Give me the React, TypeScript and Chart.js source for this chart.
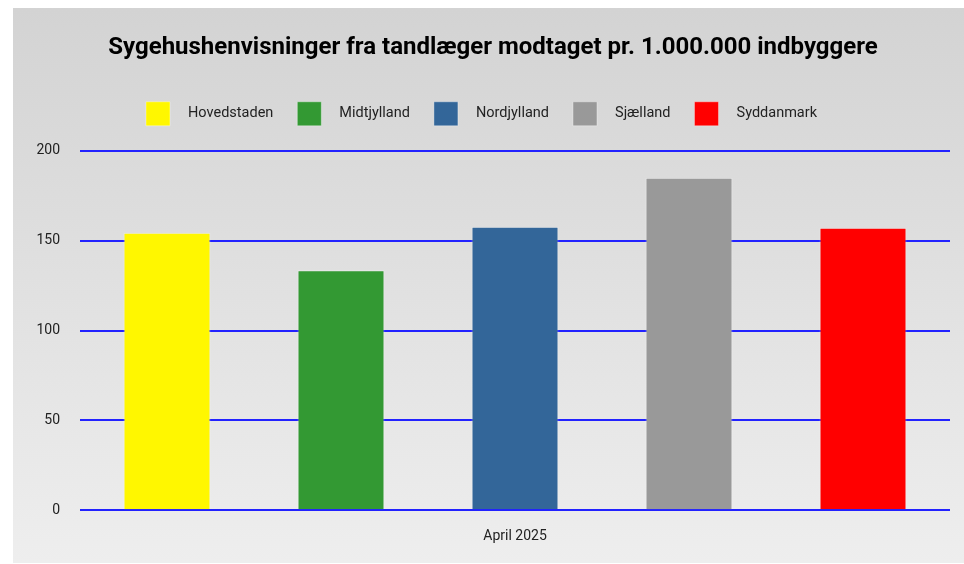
import React, { useEffect, useRef } from "react";
import { Chart, registerables } from "chart.js";

Chart.register(...registerables);

const titleText = "Sygehushenvisninger fra tandlæger modtaget pr. 1.000.000 indbyggere";
const categories = ["April 2025"];
const regions = ["Hovedstaden", "Midtjylland", "Nordjylland", "Sjælland", "Syddanmark"];
const regionValues = [154.4, 133.5, 157.8, 185, 157.2];
const regionColors = ["#FFF700", "#339933", "#336699", "#999999", "#FF0000"];
const yTicks = [0, 50, 100, 150, 200];

const titleShift = {
  id: "titleShift",
  afterLayout(c: any) {
    if (c.titleBlock) c.titleBlock.left += 23;
  },
};

export default function App() {
  const ref = useRef<HTMLCanvasElement | null>(null);
  useEffect(() => {
    if (!ref.current) return;
    const chart = new Chart(ref.current, {
      type: "bar",
      data: {
        labels: categories,
        datasets: regions.map((r, i) => ({
          label: r,
          data: [regionValues[i]],
          backgroundColor: regionColors[i],
          borderColor: "rgba(255,255,255,0.35)",
          borderWidth: 1,
          categoryPercentage: 1,
          barPercentage: 0.5,
        })),
      },
      plugins: [titleShift],
      options: {
        responsive: false,
        animation: false,
        layout: { padding: { left: 0, right: 14, bottom: 0, top: 0 } },
        font: { family: "Roboto" },
        plugins: {
          title: {
            display: true,
            text: titleText,
            color: "#000",
            font: { family: "Roboto", size: 24, weight: "bold", lineHeight: 1.2 },
            padding: { top: 26, bottom: 15 },
          },
          legend: {
            display: true,
            position: "top",
            weight: 1800,
            labels: {
              boxWidth: 24,
              boxHeight: 24,
              padding: 24,
              color: "#222",
              font: { family: "Roboto", size: 14.5 },
              generateLabels: (c: any) =>
                Chart.defaults.plugins.legend.labels
                  .generateLabels(c)
                  .map((l: any) => ({ ...l, text: "   " + l.text })),
            },
          },
          subtitle: {
            display: true,
            text: "",
            weight: 1500,
            font: { size: 1, lineHeight: 1 },
            padding: { top: 14, bottom: 0 },
          },
          tooltip: { enabled: false },
        },
        scales: {
          x: {
            grid: { display: false, drawTicks: false },
            border: { display: false },
            ticks: {
              color: "#222",
              font: { family: "Roboto", size: 14 },
              padding: 18,
            },
          },
          y: {
            min: 0,
            max: 200,
            afterFit: (s: any) => {
              s.width = 67;
            },
            afterBuildTicks: (s: any) => {
              s.ticks = yTicks.map((v) => ({ value: v }));
            },
            grid: { color: "#2222ff", lineWidth: 2, drawTicks: false },
            border: { display: false },
            ticks: {
              color: "#222",
              font: { family: "Roboto", size: 14 },
              padding: 20,
            },
          },
        },
      },
    });
    return () => chart.destroy();
  }, []);
  return (
    <div style={{ position: "fixed", left: 13, top: 8, width: 951, height: 555 }}>
      <canvas
        ref={ref}
        width={951}
        height={555}
        style={{
          display: "block",
          background: "linear-gradient(to bottom, #d3d3d3, #eeeeee)",
        }}
      />
    </div>
  );
}
